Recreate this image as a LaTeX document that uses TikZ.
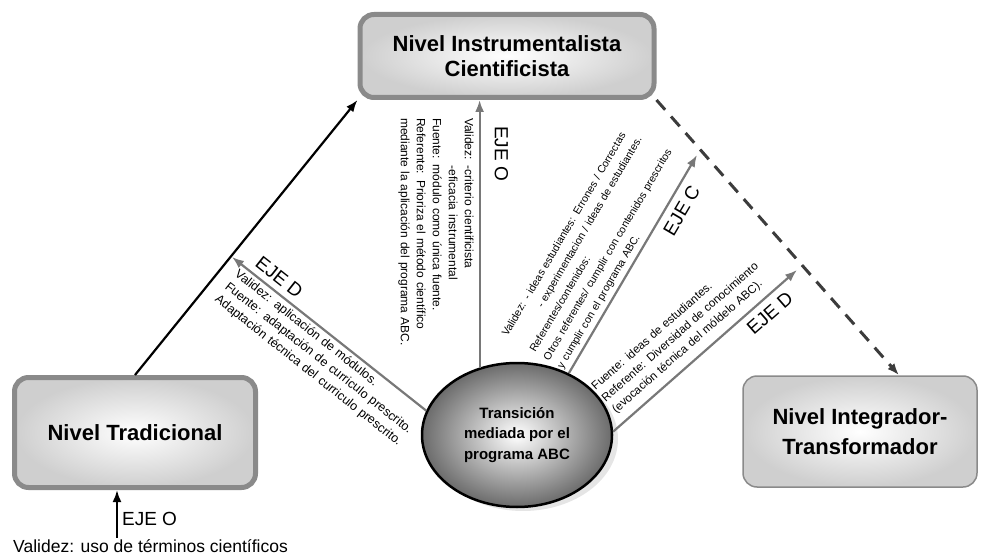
\documentclass[tikz,border=0pt]{standalone}
\usepackage{fontspec}
\setmainfont{Liberation Sans}
\usetikzlibrary{arrows.meta,shapes.geometric,shadows}

\definecolor{bordegris}{RGB}{138,138,138}
\definecolor{flechagris}{RGB}{120,120,120}
\definecolor{trazooscuro}{RGB}{60,60,60}

\newcommand{\llena}[1]{\makebox[\hsize][s]{#1}}

\begin{document}
\begin{tikzpicture}[x=1pt, y=-1pt,
        nivel/.style = {shape=rectangle, rounded corners=14pt,
            draw=bordegris, line width=5pt, inner color=white,
            outer color=gray!38, align=center,
            font=\fontsize{22}{25}\selectfont\bfseries},
        transicion/.style = {shape=ellipse, draw=black, line width=2.5pt,
            inner color=white, outer color=black!58, align=center,
            font=\fontsize{15}{20.5}\selectfont\bfseries,
            drop shadow={shadow xshift=6pt, shadow yshift=-4pt, fill=gray!40}},
        eje/.style = {draw=flechagris, line width=2.2pt,
            -{Latex[length=12pt,width=9pt]}},
        negra/.style = {draw=black, line width=2.2pt,
            -{Latex[length=12pt,width=9pt]}},
        punteada/.style = {draw=trazooscuro, line width=3pt,
            dash pattern=on 13pt off 9pt, -{Latex[length=12pt,width=9pt]}},
        etiqueta/.style = {font=\fontsize{19}{22}\selectfont, inner sep=1pt},
        bloque/.style = {align=left, inner sep=2pt}]
    \useasboundingbox (0,0) rectangle (982,556);

    % niveles
    \node[nivel, minimum width=294pt, minimum height=83pt] (instr) at (507,56)
        {Nivel Instrumentalista\\Cientificista};
    \node[nivel, minimum width=241pt, minimum height=110pt] (trad) at (135,432.5)
        {Nivel Tradicional};
    \node[nivel, line width=1.5pt, font=\fontsize{22}{30}\selectfont\bfseries,
        minimum width=234pt, minimum height=111pt] (integ) at (860,431.5)
        {Nivel Integrador-\\Transformador};
    \node[transicion, minimum width=190pt, minimum height=144pt, inner sep=0pt]
        (trans) at (517,435) {Transición\\mediada por el\\programa ABC};

    % ejes
    \coordinate (dizq) at (232,257);
    \coordinate (ejec) at (697,155);
    \coordinate (ejed) at (797,270);

    \draw[negra] (trad.north) -- (instr.south west);

    \draw[eje] (trans.119) -- (trans.119 |- instr.south)
        node[pos=.51, rotate=-90, anchor=north, bloque, outer sep=4pt,
            text width=226pt, font=\fontsize{12}{16}\selectfont] (textoA)
            {Validez: -criterio cientificista\\
             \phantom{Validez: }-eficacia instrumental\\
             \llena{Fuente: módulo como única fuente.}\\
             \llena{Referente: Prioriza el método científico}\\
             \llena{mediante la aplicación del programa ABC.}}
        node[pos=.8, rotate=-90, anchor=south, etiqueta, outer sep=14pt] (ejeO)
            {EJE O};

    \draw[eje] (trans.165) -- (dizq)
        node[pos=.47, sloped, below, bloque, outer sep=2pt,
            text width=236pt, font=\fontsize{12.5}{16}\selectfont] (textoB)
            {\llena{Validez: aplicación de módulos.}\\
             Fuente: adaptación de curriculo prescrito.\\
             Adaptación técnica del curriculo prescrito.}
        node[pos=.8, sloped, above, etiqueta, outer sep=6pt] (ejeDizq) {EJE D};

    \draw[eje] (trans.50) -- (ejec)
        node[pos=.5, sloped, above, bloque, outer sep=3pt,
            text width=252pt, font=\fontsize{10.6}{16}\selectfont] (textoC)
            {Validez: - ideas estudiantes: Errones / Correctas\\
             \phantom{Validez: }- experimentacion / ideas de estudiantes.\\
             Referentes/contenidos:\\
             \mbox{Otros referentes/ cumplir con contenidos prescritos}\\
             \llena{y cumplir con el programa ABC.}}
        node[pos=.78, sloped, below, etiqueta, outer sep=7pt] (ejeC) {EJE C};

    \draw[eje] (trans.2) -- (ejed)
        node[pos=.47, sloped, above, bloque, outer sep=7pt,
            text width=202pt, font=\fontsize{11.6}{15.5}\selectfont] (textoD)
            {\llena{Fuente: ideas de estudiantes.}\\
             \llena{Referente: Diversidad de conocimiento}\\
             \llena{(evocación técnica del móldelo ABC).}}
        node[pos=.8, sloped, below, etiqueta, outer sep=7pt] (ejeDder) {EJE D};

    \draw[punteada] (instr.south east) -- ([xshift=39pt]integ.north);

    % eje inferior
    \node[anchor=base west, font=\fontsize{17.5}{20}\selectfont, inner sep=1pt]
        (usoval) at (12,552) {Validez: uso de términos científicos};
    \coordinate (ejeO2) at ([xshift=-18pt]trad.south);
    \draw[negra] (usoval.north -| ejeO2) -- (ejeO2)
        node[pos=.4, right=3pt, etiqueta] (ejeOabajo) {EJE O};
\end{tikzpicture}
\end{document}
